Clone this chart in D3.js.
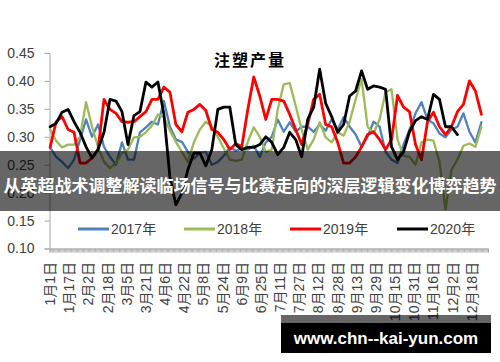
<!DOCTYPE html>
<html><head><meta charset="utf-8">
<script src="https://cdn.jsdelivr.net/npm/d3@7"></script>
<style>
html,body{margin:0;padding:0;background:#fff;}
svg{display:block;}
</style></head>
<body>
<svg id="chart" width="500" height="362"></svg>
<script>
// ---- data ----
const title = "注塑产量";
const seriesNames = ["2017年", "2018年", "2019年", "2020年"];
const seriesColors = ["#4F81BD", "#9BBB59", "#FF0000", "#000000"];
const yTicks = [0.10, 0.15, 0.20, 0.25, 0.30, 0.35, 0.40, 0.45];
const xTickLabels = ["1月1日","1月17日","2月2日","2月18日","3月5日","3月21日","4月6日","4月22日","5月8日","5月24日","6月9日","6月25日","7月11日","7月27日","8月12日","8月28日","9月13日","9月29日","10月15日","10月31日","11月16日","12月2日","12月18日"];
const xTickDays = [0,16,32,48,64,80,96,112,128,144,160,176,192,208,224,240,256,272,288,304,320,336,352];
// sampled every 5 days from Jan 1
const values2017 = [0.281,0.264,0.255,0.244,0.259,0.295,0.331,0.300,0.322,0.282,0.264,0.250,0.290,0.259,0.259,0.308,0.317,0.327,0.322,0.364,0.318,0.295,0.291,0.273,0.261,0.271,0.273,0.250,0.255,0.266,0.281,0.275,0.279,0.277,0.284,0.264,0.290,0.300,0.331,0.309,0.326,0.309,0.318,0.318,0.309,0.322,0.311,0.331,0.313,0.335,0.318,0.304,0.282,0.300,0.327,0.318,0.273,0.259,0.253,0.286,0.313,0.342,0.362,0.331,0.324,0.306,0.299,0.313,0.318,0.342,0.309,0.290,0.326];
const values2018 = [0.313,0.293,0.281,0.286,0.286,0.300,0.362,0.318,0.282,0.255,0.244,0.253,0.271,0.277,0.299,0.300,0.308,0.320,0.340,0.335,0.311,0.291,0.273,0.255,0.290,0.313,0.327,0.318,0.300,0.279,0.259,0.257,0.259,0.291,0.317,0.300,0.273,0.277,0.349,0.394,0.396,0.355,0.313,0.277,0.295,0.326,0.299,0.290,0.308,0.302,0.327,0.367,0.403,0.318,0.306,0.331,0.380,0.385,0.295,0.266,0.264,0.250,0.290,0.295,0.293,0.255,0.170,0.241,0.259,0.284,0.288,0.282,0.318];
const values2019 = [0.281,0.327,0.336,0.313,0.308,0.253,0.253,0.262,0.277,0.367,0.349,0.342,0.327,0.326,0.327,0.336,0.345,0.367,0.367,0.389,0.380,0.322,0.309,0.344,0.349,0.358,0.347,0.313,0.308,0.295,0.277,0.288,0.282,0.349,0.407,0.373,0.331,0.367,0.367,0.364,0.340,0.313,0.286,0.322,0.367,0.376,0.322,0.318,0.290,0.253,0.253,0.264,0.282,0.304,0.309,0.295,0.277,0.295,0.374,0.353,0.345,0.286,0.259,0.327,0.344,0.318,0.304,0.318,0.345,0.358,0.400,0.382,0.340];
const values2020 = [0.318,0.324,0.344,0.349,0.327,0.308,0.282,0.262,0.277,0.308,0.367,0.364,0.345,0.286,0.338,0.345,0.398,0.389,0.398,0.340,0.228,0.178,0.199,0.241,0.271,0.271,0.248,0.277,0.349,0.353,0.353,0.286,0.277,0.281,0.281,0.286,0.300,0.290,0.268,0.281,0.308,0.295,0.264,0.331,0.353,0.421,0.360,0.336,0.308,0.322,0.373,0.382,0.418,0.385,0.391,0.389,0.385,0.282,0.259,0.273,0.309,0.329,0.336,0.331,0.376,0.367,0.318,0.318,0.304];
const bannerText = "从英超战术调整解读临场信号与比赛走向的深层逻辑变化博弈趋势";
const watermarkText = "www.chn--kai-yun.com";

const allSeries = [values2017, values2018, values2019, values2020];
const lineWidths = [2.3, 2.3, 2.8, 2.8];

const svg = d3.select("#chart");
const x = d3.scaleLinear().domain([0, 366]).range([49.5, 488]);
const y = d3.scaleLinear().domain([0.10, 0.45]).range([248.5, 53]);
const font = "'Liberation Sans','Noto Sans CJK SC',sans-serif";

// y axis
const yAxis = svg.append("g").attr("transform", "translate(49.5,0)")
  .call(d3.axisLeft(y).tickValues(yTicks).tickSize(5).tickPadding(10).tickFormat(d3.format(".2f")));
yAxis.select(".domain").attr("stroke", "#a6a6a6");
yAxis.selectAll(".tick line").attr("stroke", "#a6a6a6");
yAxis.selectAll("text").attr("font-size", 14).attr("font-family", font).attr("fill", "#404040");

// x axis
const xAxis = svg.append("g").attr("transform", "translate(0,248.5)")
  .call(d3.axisBottom(x).tickValues(d3.range(0, 367)).tickSize(4).tickFormat(""));
xAxis.select(".domain").attr("stroke", "#a6a6a6");
xAxis.selectAll(".tick line").attr("stroke", "#a6a6a6").attr("stroke-width", 0.8);

svg.append("g").selectAll("text").data(xTickLabels).join("text")
  .attr("transform", (d, i) => `translate(${x(xTickDays[i] + 0.5)},262) rotate(-90)`)
  .attr("text-anchor", "end").attr("dy", "0.35em")
  .attr("font-size", 14).attr("font-family", font).attr("fill", "#404040")
  .text(d => d);

// lines
const line = d3.line().x((d, i) => x(i * 5 + 0.5)).y(d => y(d));
allSeries.forEach((vals, k) => {
  svg.append("path").datum(vals).attr("d", line)
    .attr("fill", "none").attr("stroke", seriesColors[k])
    .attr("stroke-width", lineWidths[k]).attr("stroke-linejoin", "round").attr("stroke-linecap", "round");
});

// title
svg.append("text").attr("x", 250).attr("y", 59).attr("text-anchor", "middle")
  .attr("dominant-baseline", "central").attr("font-size", 16).attr("font-weight", "bold")
  .attr("letter-spacing", 2).attr("font-family", "'Noto Sans CJK SC',sans-serif").attr("fill", "#000")
  .text(title);

// legend
const legendX = [78, 184, 290, 397];
seriesNames.forEach((n, k) => {
  svg.append("line").attr("x1", legendX[k]).attr("x2", legendX[k] + 31).attr("y1", 229).attr("y2", 229)
    .attr("stroke", seriesColors[k]).attr("stroke-width", 3);
  svg.append("text").attr("x", legendX[k] + 33).attr("y", 229).attr("dominant-baseline", "central")
    .attr("font-size", 14).attr("font-family", font).attr("fill", "#404040").text(n);
});

// banner overlay
svg.append("rect").attr("x", 0).attr("y", 151).attr("width", 500).attr("height", 60)
  .attr("fill", "#000").attr("fill-opacity", 0.6);
svg.append("text").attr("x", 250).attr("y", 184).attr("text-anchor", "middle")
  .attr("dominant-baseline", "central").attr("font-size", 17).attr("font-weight", "bold")
  .attr("font-family", "'Noto Sans CJK SC',sans-serif").attr("fill", "#fff").text(bannerText);

// watermark box
svg.append("rect").attr("x", 281).attr("y", 315).attr("width", 210).attr("height", 8)
  .attr("fill", "#000").attr("fill-opacity", 0.6);
svg.append("rect").attr("x", 281).attr("y", 323).attr("width", 210).attr("height", 30).attr("fill", "#000");
svg.append("text").attr("x", 386).attr("y", 338).attr("text-anchor", "middle")
  .attr("dominant-baseline", "central").attr("font-size", 17).attr("font-weight", "bold")
  .attr("font-family", "'Liberation Sans',Arial,sans-serif").attr("fill", "#fff").text(watermarkText);
</script>
</body></html>
